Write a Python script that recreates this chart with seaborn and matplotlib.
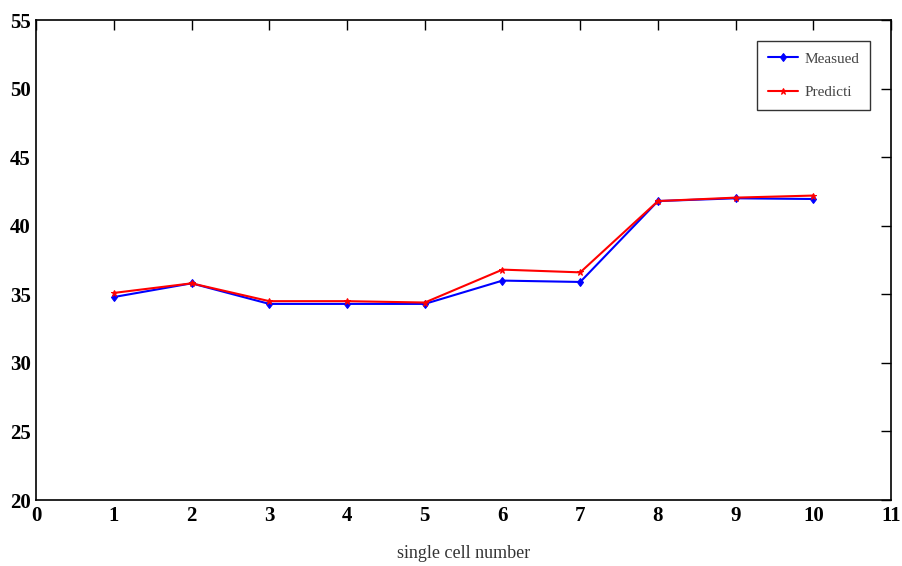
import matplotlib
matplotlib.use("Agg")
import matplotlib.pyplot as plt
import seaborn as sns
import pandas as pd

cells = [1, 2, 3, 4, 5, 6, 7, 8, 9, 10]
measured = [34.8, 35.8, 34.3, 34.3, 34.3, 36.0, 35.9, 41.8, 42.0, 41.95]
predicted = [35.1, 35.8, 34.5, 34.5, 34.4, 36.8, 36.6, 41.8, 42.05, 42.2]
series_names = ["Measued", "Predicti"]
xticks = list(range(0, 12))
yticks = [20, 25, 30, 35, 40, 45, 50, 55]

sns.set_theme(style="white")
plt.rcParams['font.family'] = ['Liberation Serif', 'DejaVu Serif']

df = pd.DataFrame({
    "cell": cells * 2,
    "value": measured + predicted,
    "series": [series_names[0]] * len(cells) + [series_names[1]] * len(cells),
})

fig = plt.figure(figsize=(9.02, 5.66), dpi=100)
ax = fig.add_axes([0.040, 0.1166, 0.948, 0.848])

colors = {series_names[0]: "#0000ff", series_names[1]: "#ff0000"}
sns.lineplot(data=df, x="cell", y="value", hue="series", style="series",
             palette=colors,
             markers={series_names[0]: "d", series_names[1]: "*"},
             dashes=False, markersize=4.5, linewidth=1.5, ax=ax)

for line in ax.get_lines():
    line.set_markeredgecolor(line.get_color())
    line.set_markerfacecolor(line.get_color())

ax.set_xlim(0, 11)
ax.set_ylim(20, 55)
ax.set_xticks(xticks)
ax.set_yticks(yticks)
ax.tick_params(direction="in", length=7, width=1, top=True, right=True,
               labelsize=15, pad=4, colors="black")
for lbl in ax.get_xticklabels() + ax.get_yticklabels():
    lbl.set_fontweight("bold")
for s in ax.spines.values():
    s.set_color("black")
    s.set_linewidth(1.2)
ax.set_xlabel("single cell number", fontsize=13, color="#333333", labelpad=14)
ax.set_ylabel("")

leg = ax.legend(loc="upper right", fontsize=11, frameon=True, fancybox=False,
                edgecolor="black", handlelength=2.0, borderaxespad=1.4,
                labelspacing=1.3, borderpad=0.7, handletextpad=0.4)
leg.get_frame().set_linewidth(1.0)
for line in leg.get_lines():
    line.set_markeredgecolor(line.get_color())
    line.set_markerfacecolor(line.get_color())
for t in leg.get_texts():
    t.set_color("#444444")

fig.savefig("out.png", dpi=100)
